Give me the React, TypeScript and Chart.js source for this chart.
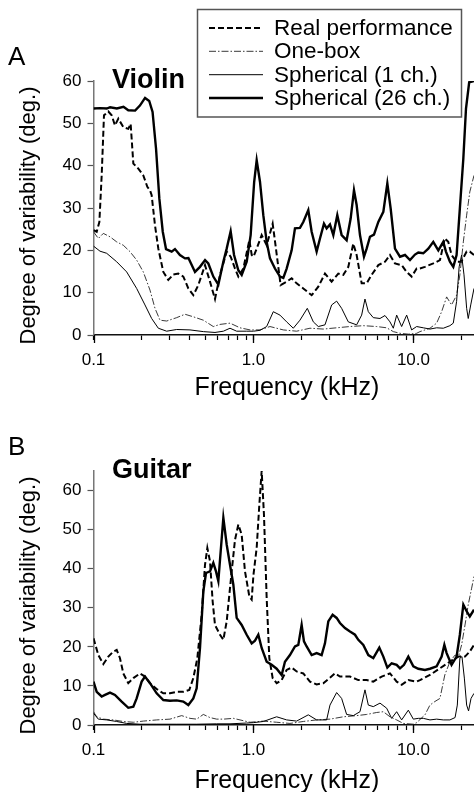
import { useEffect, useRef } from 'react';
import { Chart, registerables } from 'chart.js';

Chart.register(...registerables);

const FONT = '"Liberation Sans", Arial, Helvetica, sans-serif';

// ---------- axes ----------
const xMin = 0.1;
const xMax = 23.9;
const xTickValues = [0.1, 0.2, 0.3, 0.4, 0.5, 0.6, 0.7, 0.8, 0.9, 1, 2, 3, 4, 5, 6, 7, 8, 9, 10, 20];
const xLabelValues = [0.1, 1, 10];
const xLabelTexts = ['0.1', '1.0', '10.0'];
const yTicksViolin = [0, 10, 20, 30, 40, 50, 60];
const yTicksGuitar = [0, 10, 20, 30, 40, 50, 60];
const yMaxViolin = 60;
const yMaxGuitar = 65;

const legendLabels = ['Real performance', 'One-box', 'Spherical (1 ch.)', 'Spherical (26 ch.)'];
const panelLetters = ['A', 'B'];
const instrumentNames = ['Violin', 'Guitar'];
const xTitle = 'Frequency (kHz)';
const yTitle = 'Degree of variability (deg.)';

type P = [number, number][];

// ---------- Violin (A) ----------
const violinReal: P = [[0.1,24.8],[0.1047,24.4],[0.1088,26.7],[0.1125,37.7],[0.1163,51.9],[0.1238,52.8],[0.1299,51.9],[0.1362,49.5],[0.143,51.1],[0.1536,49.1],[0.165,48.7],[0.1707,49.9],[0.1774,40.5],[0.1906,39.3],[0.2048,37.7],[0.217,35.0],[0.2255,34.2],[0.231,33.0],[0.2423,25.9],[0.2542,20.4],[0.2732,14.9],[0.2935,13.0],[0.3155,14.3],[0.339,14.5],[0.3643,13.8],[0.3915,11.0],[0.4207,9.4],[0.4521,11.8],[0.4977,16.5],[0.5348,12.6],[0.5747,8.5],[0.6177,14.2],[0.6799,19.7],[0.7201,18.5],[0.7665,15.7],[0.8042,13.8],[0.8642,15.7],[0.9422,22.4],[0.975,18.9],[1.0,18.5],[1.047,20.4],[1.125,23.6],[1.209,21.2],[1.318,26.3],[1.382,20.4],[1.478,11.8],[1.612,12.6],[1.732,13.4],[1.861,12.2],[2.048,11.0],[2.31,9.4],[2.542,11.4],[2.798,14.5],[3.08,12.6],[3.39,14.5],[3.643,14.2],[3.915,16.1],[4.207,21.6],[4.414,18.9],[4.744,12.2],[5.098,12.2],[5.477,14.2],[6.03,16.5],[6.638,17.3],[7.133,18.9],[7.665,16.9],[8.437,16.5],[9.067,14.9],[9.743,13.8],[10.47,15.7],[10.98,15.7],[11.8,16.1],[13.3,16.9],[14.64,17.7],[15.7,22.8],[16.5,22.0],[17.3,18.9],[18.6,17.3],[19.9,17.3],[21.5,19.7],[22.5,19.7],[23.9,18.9]];
const violinOneBox: P = [[0.1,24.4],[0.1072,22.8],[0.1152,24.0],[0.1268,23.2],[0.1396,22.0],[0.1536,21.2],[0.169,19.7],[0.1861,17.7],[0.2048,14.9],[0.2255,10.6],[0.2423,6.3],[0.2604,3.5],[0.2866,3.3],[0.331,4.1],[0.3731,4.9],[0.4207,4.3],[0.4859,3.5],[0.561,2.0],[0.6177,2.5],[0.7133,2.8],[0.8237,1.7],[0.9512,1.2],[1.098,1.2],[1.268,2.0],[1.536,1.2],[1.861,0.9],[2.255,1.6],[2.732,1.4],[3.31,1.7],[4.01,2.0],[4.859,2.2],[5.887,2.0],[6.799,1.7],[7.484,0.8],[8.237,0.4],[9.287,0.2],[10.47,0.4],[10.98,0.8],[12.68,1.6],[13.96,2.8],[15.0,5.5],[16.12,9.0],[17.3,7.1],[18.6,9.4],[19.5,14.2],[20.5,22.0],[21.5,28.3],[22.5,33.8],[23.9,37.7]];
const violinSph1: P = [[0.1,21.0],[0.1098,19.8],[0.1209,19.3],[0.1396,17.3],[0.1612,14.9],[0.1861,11.0],[0.2098,7.1],[0.231,3.9],[0.2542,1.6],[0.2866,0.9],[0.331,1.3],[0.401,1.2],[0.4859,0.8],[0.5747,0.6],[0.6481,0.9],[0.7133,1.6],[0.7852,0.9],[0.9067,0.9],[1.0,0.9],[1.098,1.1],[1.209,2.0],[1.33,5.5],[1.464,4.7],[1.612,3.1],[1.774,1.6],[1.952,3.5],[2.17,6.3],[2.366,3.1],[2.542,2.0],[2.798,2.4],[3.08,7.1],[3.31,8.0],[3.556,6.3],[3.915,3.1],[4.414,2.4],[4.744,4.7],[4.977,8.5],[5.222,5.5],[5.61,4.1],[6.177,3.9],[6.638,4.6],[7.133,3.1],[7.484,1.6],[7.852,4.7],[8.437,2.0],[9.067,4.7],[9.743,1.2],[10.47,2.0],[11.52,1.7],[12.68,1.4],[13.96,1.7],[15.36,1.6],[16.9,2.2],[17.74,2.8],[18.6,7.9],[19.3,16.1],[20.0,18.9],[20.7,14.2],[21.5,6.3],[22.0,3.9],[22.8,7.1],[23.9,11.0]];
const violinSph26: P = [[0.1,53.5],[0.11,53.6],[0.121,53.5],[0.127,53.8],[0.14,53.5],[0.154,53.9],[0.165,53.1],[0.182,53.0],[0.195,54.2],[0.21,56.0],[0.223,55.3],[0.234,52.7],[0.246,44.0],[0.258,32.2],[0.271,24.4],[0.284,20.3],[0.308,19.7],[0.323,20.3],[0.347,18.9],[0.373,18.1],[0.392,18.2],[0.431,14.9],[0.463,16.1],[0.498,17.7],[0.522,16.9],[0.561,13.8],[0.603,11.9],[0.648,17.3],[0.68,20.4],[0.72,24.5],[0.756,18.9],[0.804,15.3],[0.844,14.2],[0.907,17.3],[0.96,23.6],[1.01,36.2],[1.047,41.3],[1.098,36.2],[1.152,28.3],[1.209,22.0],[1.268,18.1],[1.362,15.7],[1.464,13.8],[1.536,13.5],[1.612,15.7],[1.732,20.0],[1.817,25.2],[1.952,25.3],[2.048,26.7],[2.201,29.5],[2.31,24.4],[2.482,19.7],[2.604,22.8],[2.758,26.3],[2.866,25.2],[3.007,26.1],[3.155,23.6],[3.341,28.3],[3.556,23.6],[3.822,22.4],[4.049,27.5],[4.248,34.2],[4.414,30.7],[4.631,23.6],[4.906,18.5],[5.098,20.4],[5.348,23.2],[5.664,23.7],[6.03,26.7],[6.481,29.1],[6.865,35.8],[7.201,29.9],[7.665,20.4],[8.237,18.5],[8.852,18.9],[9.512,17.7],[10.22,19.0],[10.72,19.5],[11.52,19.3],[12.38,20.4],[13.3,22.0],[14.3,20.0],[15.36,22.0],[15.96,19.7],[16.9,17.3],[17.74,16.1],[18.6,18.9],[19.5,29.9],[20.5,41.7],[21.3,53.5],[22.3,59.7],[23.9,60]];

// ---------- Guitar (B) ----------
const guitarReal: P = [[0.1,22.2],[0.1072,17.9],[0.1152,15.6],[0.1238,17.5],[0.133,18.8],[0.1396,19.2],[0.1464,17.1],[0.1536,13.2],[0.165,10.7],[0.1774,12.0],[0.1952,13.2],[0.2098,12.4],[0.2255,10.7],[0.2482,9.2],[0.2732,8.1],[0.3007,8.1],[0.331,8.5],[0.3643,8.5],[0.3972,9.0],[0.4207,12.0],[0.4457,17.1],[0.4744,28.2],[0.4977,41.0],[0.5147,45.3],[0.5348,41.9],[0.5557,31.6],[0.5747,25.6],[0.6177,23.1],[0.6481,21.8],[0.6799,26.5],[0.7306,39.3],[0.7665,47.4],[0.8042,51.3],[0.8437,48.7],[0.8852,39.3],[0.9422,32.9],[0.9743,32.1],[1.0,38.5],[1.047,45.3],[1.088,56.4],[1.125,65.0],[1.163,53.8],[1.209,32.5],[1.256,17.1],[1.318,12.0],[1.396,10.7],[1.5,11.5],[1.612,14.1],[1.732,14.7],[1.861,13.7],[2.048,13.2],[2.255,11.1],[2.482,10.4],[2.732,10.7],[3.007,12.1],[3.231,13.2],[3.472,12.4],[4.01,12.4],[4.521,11.5],[5.098,11.5],[5.61,11.1],[6.327,12.4],[7.133,13.2],[7.852,11.1],[8.437,10.3],[9.287,11.5],[10.47,11.1],[10.98,11.5],[12.68,12.8],[14.64,14.5],[16.9,16.2],[19.1,17.5],[21.0,17.5],[22.5,18.8],[23.9,20.5]];
const guitarOneBox: P = [[0.1,3.4],[0.1047,2.1],[0.1152,1.5],[0.133,1.3],[0.1536,0.9],[0.1774,0.7],[0.2048,1.0],[0.2482,1.3],[0.3007,1.5],[0.3556,2.4],[0.401,1.7],[0.4414,1.5],[0.4859,2.7],[0.5348,1.9],[0.5887,1.5],[0.6481,1.5],[0.7484,1.7],[0.8237,1.3],[0.9512,0.7],[1.152,1.0],[1.396,0.7],[1.69,0.4],[2.048,0.9],[2.482,1.3],[3.007,1.5],[3.643,2.1],[4.414,2.4],[5.098,2.7],[5.887,3.2],[6.481,3.4],[7.133,2.1],[7.852,1.3],[8.642,0.4],[9.98,0.2],[10.47,0.6],[11.8,2.6],[12.68,5.1],[13.6,6.0],[14.64,6.8],[15.7,12.8],[16.9,16.2],[18.2,17.9],[19.1,17.5],[20.0,20.5],[21.0,25.6],[22.0,30.8],[23.1,35.0],[23.9,38.0]];
const guitarSph1: P = [[0.1,3.0],[0.1072,1.5],[0.1209,1.3],[0.1396,0.9],[0.1612,0.4],[0.1952,0.2],[0.2482,0.2],[0.331,0.2],[0.4414,0.2],[0.5887,0.3],[0.7133,0.3],[0.9067,0.5],[1.0,0.6],[1.152,0.9],[1.396,2.1],[1.612,1.3],[1.861,1.0],[2.201,2.6],[2.482,1.3],[2.866,1.3],[3.007,5.1],[3.31,8.3],[3.556,6.8],[3.822,2.7],[4.207,2.4],[4.631,3.4],[4.977,9.0],[5.222,5.1],[5.61,4.7],[6.177,5.6],[6.799,4.3],[7.306,1.7],[7.852,3.4],[8.437,1.3],[9.287,3.8],[9.98,1.5],[10.72,1.7],[11.52,1.7],[12.68,1.3],[13.96,1.5],[15.36,1.3],[16.9,1.3],[18.2,1.9],[18.8,5.1],[19.5,17.1],[20.1,17.5],[20.8,12.0],[21.5,5.1],[22.1,3.6],[22.9,6.8],[23.9,8.1]];
const guitarSph26: P = [[0.1,11.1],[0.1047,8.5],[0.1125,7.3],[0.118,7.7],[0.1268,8.3],[0.1362,7.7],[0.15,6.0],[0.165,4.4],[0.1774,4.7],[0.1861,6.8],[0.2,11.1],[0.2098,12.4],[0.2255,10.7],[0.2482,8.1],[0.2732,6.4],[0.3007,6.2],[0.331,6.3],[0.3643,6.0],[0.3915,5.1],[0.4207,6.8],[0.4414,9.4],[0.4631,19.7],[0.4859,34.2],[0.5049,38.9],[0.5348,39.3],[0.561,41.5],[0.583,39.3],[0.603,36.8],[0.6236,44.4],[0.6481,53.0],[0.6799,46.2],[0.7133,41.0],[0.7484,35.9],[0.7852,27.4],[0.8437,25.6],[0.9067,23.1],[0.9743,20.9],[1.022,21.6],[1.072,23.1],[1.125,19.7],[1.209,16.2],[1.299,15.4],[1.396,14.4],[1.5,12.8],[1.573,16.2],[1.69,17.9],[1.817,20.1],[1.906,20.5],[2.0,25.6],[2.068,21.4],[2.149,20.1],[2.31,17.9],[2.482,18.4],[2.667,17.9],[2.798,20.9],[2.935,26.5],[3.124,28.2],[3.31,27.4],[3.472,26.1],[3.731,24.8],[4.01,23.9],[4.31,23.1],[4.521,21.8],[4.859,20.5],[5.222,17.9],[5.61,17.1],[6.117,19.8],[6.481,17.5],[6.865,14.7],[7.306,15.8],[7.852,15.4],[8.237,14.5],[8.725,15.4],[9.287,17.5],[9.98,15.0],[10.72,14.4],[11.8,14.1],[12.68,14.4],[13.96,15.0],[15.0,17.5],[15.6,20.5],[16.12,18.4],[17.3,15.4],[18.6,17.5],[19.5,23.1],[20.5,30.8],[21.5,29.1],[22.5,27.8],[23.9,29.5]];

// ---------- styles ----------
const seriesStyles = [
  { color: '#000', width: 2, dash: [6, 3] },
  { color: '#222', width: 0.9, dash: [7, 2, 1.5, 2] },
  { color: '#000', width: 1, dash: [] as number[] },
  { color: '#000', width: 2.4, dash: [] as number[] },
];

const CANVAS_H = 402;
const AREA_TOP = 81;
const AREA_BOTTOM = 335;
const AREA_LEFT = 93.5;
const X_AXIS_H = 30;

type PanelProps = {
  index: number;
  top: number;
  titleBaseline: number;
  yMax: number;
  yTicks: number[];
  series: P[];
  showLegend: boolean;
};

function Panel({ index, top, titleBaseline, yMax, yTicks, series, showLegend }: PanelProps) {
  const ref = useRef<HTMLCanvasElement | null>(null);
  useEffect(() => {
    if (!ref.current) return;
    const decor = {
      id: 'decor' + index,
      afterDraw(chart: any) {
        const ctx = chart.ctx as CanvasRenderingContext2D;
        const xs = chart.scales.x;
        const area = chart.chartArea;
        ctx.save();
        // major x ticks (longer)
        ctx.strokeStyle = '#000';
        ctx.lineWidth = 1.3;
        xLabelValues.forEach((v) => {
          const px = Math.round(xs.getPixelForValue(v)) + 0.5;
          ctx.beginPath();
          ctx.moveTo(px, area.bottom);
          ctx.lineTo(px, area.bottom + 8);
          ctx.stroke();
        });
        ctx.fillStyle = '#000';
        // panel letter
        ctx.font = `26px ${FONT}`;
        ctx.textAlign = 'left';
        ctx.textBaseline = 'alphabetic';
        ctx.fillText(panelLetters[index], 8, 65);
        // instrument
        ctx.font = `bold 27px ${FONT}`;
        ctx.fillText(instrumentNames[index], 112, 87.5);
        // x title
        ctx.font = `25px ${FONT}`;
        ctx.textAlign = 'center';
        ctx.fillText(xTitle, 287, titleBaseline);
        // y title
        ctx.save();
        ctx.translate(29, 215.5);
        ctx.rotate(-Math.PI / 2);
        ctx.font = `22px ${FONT}`;
        ctx.textAlign = 'center';
        ctx.textBaseline = 'middle';
        ctx.fillText(yTitle, 0, 0);
        ctx.restore();
        // legend
        if (showLegend) {
          ctx.fillStyle = '#fff';
          ctx.fillRect(197.5, 9.5, 264, 107.5);
          ctx.strokeStyle = '#555';
          ctx.lineWidth = 1.5;
          ctx.strokeRect(197.5, 9.5, 264, 107.5);
          const rows = [35, 58.3, 81.7, 105];
          legendLabels.forEach((label, i) => {
            const st = seriesStyles[i];
            const y = rows[i] - 7;
            ctx.beginPath();
            ctx.setLineDash(st.dash);
            ctx.lineWidth = st.width;
            ctx.strokeStyle = st.color;
            ctx.moveTo(209, y);
            ctx.lineTo(263, y);
            ctx.stroke();
            ctx.setLineDash([]);
            ctx.fillStyle = '#000';
            ctx.font = `22.5px ${FONT}`;
            ctx.textAlign = 'left';
            ctx.textBaseline = 'alphabetic';
            ctx.fillText(label, 274, rows[i]);
          });
        }
        ctx.restore();
      },
    };

    const datasets = series.map((pts, i) => ({
      label: legendLabels[i],
      data: pts.map(([x, y]) => ({ x, y })),
      borderColor: seriesStyles[i].color,
      borderWidth: seriesStyles[i].width,
      borderDash: seriesStyles[i].dash,
      pointRadius: 0,
      fill: false,
      tension: 0,
      order: 3 - i,
    }));

    const chart = new Chart(ref.current, {
      type: 'line',
      data: { datasets: datasets as any },
      options: {
        animation: false,
        responsive: false,
        maintainAspectRatio: false,
        parsing: false as any,
        normalized: true,
        layout: { padding: { top: AREA_TOP, left: 0, right: 0, bottom: CANVAS_H - AREA_BOTTOM - X_AXIS_H } },
        plugins: { legend: { display: false }, tooltip: { enabled: false }, title: { display: false } },
        scales: {
          x: {
            type: 'logarithmic',
            min: xMin,
            max: xMax,
            afterBuildTicks: (s: any) => {
              s.ticks = xTickValues.map((v) => ({ value: v }));
            },
            afterFit: (s: any) => {
              s.height = X_AXIS_H;
            },
            ticks: {
              autoSkip: false,
              maxRotation: 0,
              minRotation: 0,
              padding: 10,
              color: '#000',
              font: { family: FONT, size: 17 },
              callback: (value: any) => {
                const i = xLabelValues.findIndex((v) => Math.abs(Math.log10(v) - Math.log10(Number(value))) < 1e-6);
                return i >= 0 ? xLabelTexts[i] : '';
              },
            },
            grid: { display: true, drawOnChartArea: false, drawTicks: true, tickLength: 5, tickColor: '#000', tickWidth: 1.2 },
            border: { display: true, color: '#111', width: 1.5 },
          } as any,
          y: {
            type: 'linear',
            min: 0,
            max: yMax,
            afterBuildTicks: (s: any) => {
              s.ticks = yTicks.map((v) => ({ value: v }));
            },
            afterFit: (s: any) => {
              s.width = AREA_LEFT;
            },
            ticks: { padding: 6, color: '#000', font: { family: FONT, size: 17 } },
            grid: { display: true, drawOnChartArea: false, drawTicks: true, tickLength: 6, tickColor: '#555', tickWidth: 1.2 },
            border: { display: true, color: '#777', width: 1.5 },
          } as any,
        },
      },
      plugins: [decor],
    });
    return () => chart.destroy();
  }, [index, titleBaseline, yMax, yTicks, series, showLegend]);

  return (
    <canvas
      ref={ref}
      width={474}
      height={CANVAS_H}
      style={{ position: 'absolute', left: 0, top, width: 474, height: CANVAS_H, display: 'block' }}
    />
  );
}

export default function App() {
  return (
    <div style={{ position: 'absolute', left: 0, top: 0, width: 474, height: 792, background: '#fff', overflow: 'hidden' }}>
      <Panel index={0} top={0} titleBaseline={395} yMax={yMaxViolin} yTicks={yTicksViolin}
        series={[violinReal, violinOneBox, violinSph1, violinSph26]} showLegend={true} />
      <Panel index={1} top={390} titleBaseline={398} yMax={yMaxGuitar} yTicks={yTicksGuitar}
        series={[guitarReal, guitarOneBox, guitarSph1, guitarSph26]} showLegend={false} />
    </div>
  );
}
